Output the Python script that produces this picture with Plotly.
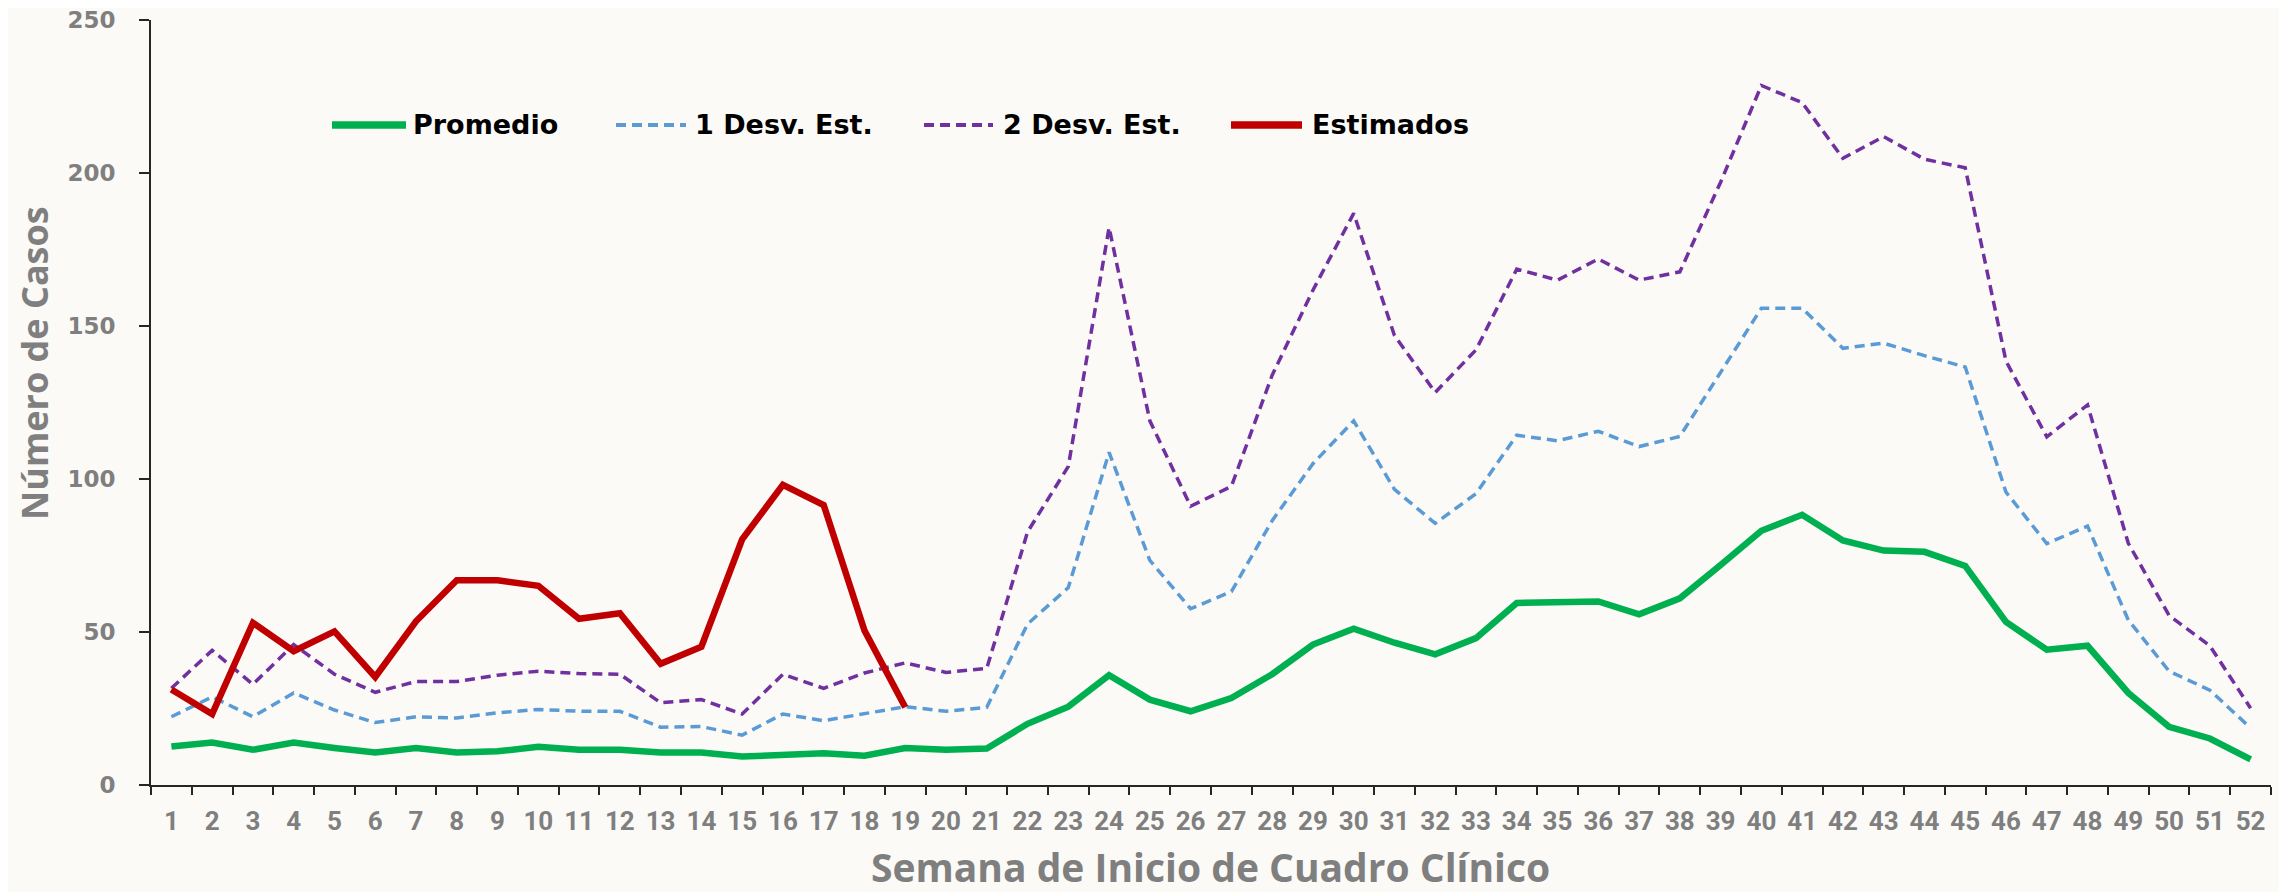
import plotly.graph_objects as go

weeks = [str(i) for i in range(1, 53)]

promedio = [12.6, 13.9, 11.5, 13.9, 12.1, 10.6, 12.1, 10.6, 11.0, 12.5,
            11.5, 11.5, 10.6, 10.6, 9.3, 10.1, 10.4, 9.6, 12.1, 11.5,
            11.9, 20.0, 25.6, 35.9, 27.9, 24.1, 28.4, 36.2, 45.9, 51.1,
            46.5, 42.7, 48.0, 59.5, 60.0, 60.0, 55.8, 61.0, 71.9, 83.1,
            88.3, 79.9, 76.6, 76.2, 71.6, 53.3, 44.2, 45.5, 30.1, 19.0,
            15.2, 8.4]
desv1 = [22.3, 28.8, 22.3, 30.1, 24.5, 20.4, 22.3, 21.9, 23.6, 24.7,
         24.1, 24.1, 18.9, 19.1, 16.3, 23.2, 21.0, 23.2, 25.6, 24.1,
         25.4, 52.6, 64.5, 108.7, 73.4, 57.6, 63.2, 86.4, 105.0, 119.0,
         96.6, 85.5, 95.2, 114.3, 112.5, 115.6, 110.6, 113.9, 134.8, 155.8,
         155.8, 142.7, 144.4, 140.3, 136.6, 95.7, 78.9, 84.6, 53.9, 37.2,
         31.0, 18.6]
desv2 = [31.6, 44.0, 32.9, 45.9, 36.2, 30.3, 33.8, 33.8, 35.9, 37.2,
         36.4, 36.2, 26.9, 27.9, 23.2, 36.2, 31.6, 36.6, 39.9, 36.8,
         38.1, 82.7, 104.1, 182.2, 119.0, 91.1, 97.6, 133.9, 161.7, 186.8,
         146.9, 128.3, 142.2, 168.6, 165.0, 171.9, 165.0, 167.7, 197.0, 228.6,
         223.0, 204.8, 211.9, 204.5, 201.7, 138.5, 113.8, 124.2, 79.0, 55.4,
         45.5, 25.1]
estimados = [31.2, 23.2, 53.0, 43.7, 50.2, 35.3, 53.5, 66.9, 66.9, 65.1,
             54.3, 56.1, 39.6, 45.2, 80.3, 98.1, 91.5, 50.5, 25.4]

series_names = ['Promedio', '1 Desv. Est.', '2 Desv. Est.', 'Estimados']
y_ticks = [0, 50, 100, 150, 200, 250]

GRAY = '#7f7f7f'
styles = {
    'Promedio': dict(color='#00B050', width=6.5, dash='solid'),
    '1 Desv. Est.': dict(color='#5B9BD5', width=3.5, dash='10px,6px'),
    '2 Desv. Est.': dict(color='#7030A0', width=3.5, dash='10px,6px'),
    'Estimados': dict(color='#C00000', width=6.5, dash='solid'),
}

fig = go.Figure()
series = [(weeks, promedio), (weeks, desv1), (weeks, desv2),
          (weeks[:len(estimados)], estimados)]
for name, (xs, ys) in zip(series_names, series):
    fig.add_trace(go.Scatter(
        x=xs, y=ys, mode='lines', name=name,
        line=styles[name], showlegend=False,
    ))

# la pagina html deja 8px de margen arriba y a la izquierda
OFF = 8
W, H = 2287 - OFF, 892 - OFF
# area de trazado en px de pantalla: x 151..2271, y 20..785
M_L, M_R = 151 - OFF, 2287 - 2271
M_T, M_B = 20 - OFF, 892 - 785
pw, ph = W - M_L - M_R, H - M_T - M_B


def px_x(x):
    return (x - OFF - M_L) / pw


def px_y(y):
    return (H - M_B - (y - OFF)) / ph


# leyenda dibujada a mano (lineas largas como en el original)
legend_px = [(332, 406, 411), (616, 686, 693), (924, 993, 1001), (1231, 1302, 1310)]
leg_y = px_y(125)
for name, (x0, x1, xt) in zip(series_names, legend_px):
    st = styles[name]
    fig.add_shape(type='line', xref='paper', yref='paper',
                  x0=px_x(x0), x1=px_x(x1), y0=leg_y, y1=leg_y,
                  line=dict(color=st['color'],
                            width=st['width'] + (1 if st['dash'] == 'solid' else 0.5),
                            dash=st['dash']))
    fig.add_annotation(xref='paper', yref='paper', x=px_x(xt), y=leg_y,
                       text=f'<b>{name}</b>', showarrow=False,
                       xanchor='left', yanchor='middle',
                       font=dict(family='DejaVu Sans', size=27, color='black'))

# titulos de ejes
fig.add_annotation(xref='paper', yref='paper', x=px_x(1210), y=px_y(866),
                   text='<b>Semana de Inicio de Cuadro Clínico</b>', showarrow=False,
                   xanchor='center', yanchor='middle',
                   font=dict(family='Open Sans', size=39, color=GRAY))
fig.add_annotation(xref='paper', yref='paper', x=px_x(35), y=px_y(363),
                   text='<b>Número de Casos</b>', showarrow=False, textangle=-90,
                   xanchor='center', yanchor='middle',
                   font=dict(family='Open Sans', size=36, color=GRAY))

fig.update_xaxes(
    type='category', categoryorder='array', categoryarray=weeks,
    range=[-0.5, 51.5], automargin=False,
    showline=True, linecolor='#262626', linewidth=2,
    ticks='outside', tickson='boundaries', ticklen=8, tickwidth=2, tickcolor='#262626',
    tickangle=0, ticklabelstandoff=12,
    tickfont=dict(family='Roboto', size=26, color=GRAY, weight='bold'),
    showgrid=False, zeroline=False,
)
fig.update_yaxes(
    range=[0, 250], tickvals=y_ticks, automargin=False,
    showline=True, linecolor='#262626', linewidth=2,
    ticks='outside', ticklen=10, tickwidth=2, tickcolor='#262626',
    ticklabelstandoff=19, ticklabeloverflow='allow',
    tickfont=dict(family='DejaVu Sans', size=23, color=GRAY, weight='bold'),
    showgrid=False, zeroline=False,
)

fig.update_layout(
    width=W, height=H,
    margin=dict(l=M_L, r=M_R, t=M_T, b=M_B),
    paper_bgcolor='#fbfaf7', plot_bgcolor='rgba(0,0,0,0)',
    showlegend=False,
)

fig.write_html('out.html')
